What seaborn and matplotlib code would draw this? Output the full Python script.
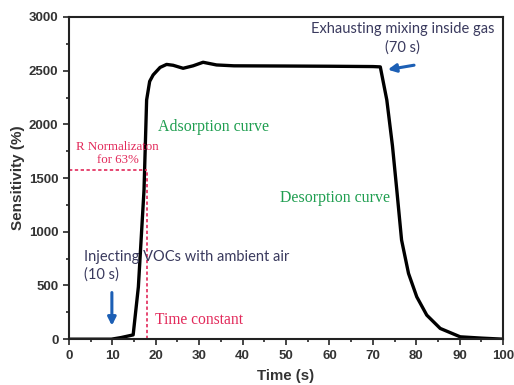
import numpy as np
import pandas as pd
import matplotlib
matplotlib.use("Agg")
import matplotlib.pyplot as plt
import seaborn as sns

# response curve
time_s = [0, 9.8, 12, 14.8, 16.0, 17.3, 17.9, 18.6, 19.4, 21.0, 22.5, 24.0, 26.3,
          28.6, 30.9, 34.0, 38.0, 50, 60, 70, 71.7, 73.2, 74.5, 75.5, 76.6,
          78.2, 80.1, 82.4, 85.5, 90.1, 95, 100]
sensitivity = [0, 0, 15, 40, 487, 1389, 2227, 2400, 2460, 2530, 2558, 2550, 2522,
               2545, 2578, 2553, 2545, 2543, 2541, 2538, 2535, 2227, 1800, 1389, 923,
               612, 394, 224, 100, 22, 10, 0]

tau_time = 17.9
tau_level = 1578

df = pd.DataFrame({"Time (s)": time_s, "Sensitivity (%)": sensitivity})

sns.set_style("ticks")
plt.rcParams["font.family"] = ["Liberation Sans", "DejaVu Sans"]

fig = plt.figure(figsize=(5.14, 3.85), dpi=100)
ax = fig.add_axes([0.134, 0.119, 0.845, 0.837])

sns.lineplot(data=df, x="Time (s)", y="Sensitivity (%)", color="black",
             linewidth=2.4, ax=ax)

red = "#e2295a"
green = "#1f9e50"
blue = "#1c5fb5"
slate = "#3a3a5e"

ax.plot([0, tau_time], [tau_level, tau_level], ls=(0, (2, 1.5)), color=red, lw=1.2)
ax.plot([tau_time, tau_time], [0, tau_level], ls=(0, (2, 1.5)), color=red, lw=1.2)

ax.set_xlim(0, 100)
ax.set_ylim(0, 3000)
ax.set_xticks(np.arange(0, 101, 10))
ax.set_xticks(np.arange(0, 101, 5), minor=True)
ax.set_yticks(np.arange(0, 3001, 500))
ax.set_yticks(np.arange(0, 3001, 250), minor=True)
ax.tick_params(which="both", direction="out", width=1.2, labelsize=9.5)
ax.tick_params(which="major", length=4)
ax.tick_params(which="minor", length=2.5)
for lab in ax.get_xticklabels() + ax.get_yticklabels():
    lab.set_fontweight("bold")
    lab.set_color("#333333")
for sp in ax.spines.values():
    sp.set_linewidth(1.5)
    sp.set_color("#222222")

ax.set_xlabel("Time (s)", fontsize=10.8, fontweight="bold", color="#333333", labelpad=5)
ax.set_ylabel("Sensitivity (%)", fontsize=11, fontweight="bold", color="#333333", labelpad=3)

serif = ["Liberation Serif", "DejaVu Serif"]
ax.text(11.2, 1730, "R Normalizaton\nfor 63%", family=serif, color=red, fontsize=9.3,
        ha="center", va="center", linespacing=1.1)
ax.text(20.5, 1976, "Adsorption curve", family=serif, color=green, fontsize=11.4,
        ha="left", va="center")
ax.text(74, 1314, "Desorption curve", family=serif, color=green, fontsize=11.4,
        ha="right", va="center")
ax.text(19.8, 177, "Time constant", family=serif, color=red, fontsize=11.2,
        ha="left", va="center")

sans = ["Lato", "DejaVu Sans"]
ax.text(3.5, 680, "Injecting VOCs with ambient air\n(10 s)", family=sans,
        color=slate, fontsize=10.5, ha="left", va="center", linespacing=1.3)
ax.text(76.8, 2800, "Exhausting mixing inside gas\n(70 s)", family=sans,
        color=slate, fontsize=10.5, ha="center", va="center", linespacing=1.45)

ax.annotate("", xy=(9.9, 100), xytext=(9.9, 460),
            arrowprops=dict(arrowstyle="-|>", color=blue, lw=2.2, mutation_scale=12))
ax.annotate("", xy=(72.8, 2505), xytext=(80.1, 2555),
            arrowprops=dict(arrowstyle="-|>", color=blue, lw=2.2, mutation_scale=12))

fig.savefig("out.png", dpi=100)
